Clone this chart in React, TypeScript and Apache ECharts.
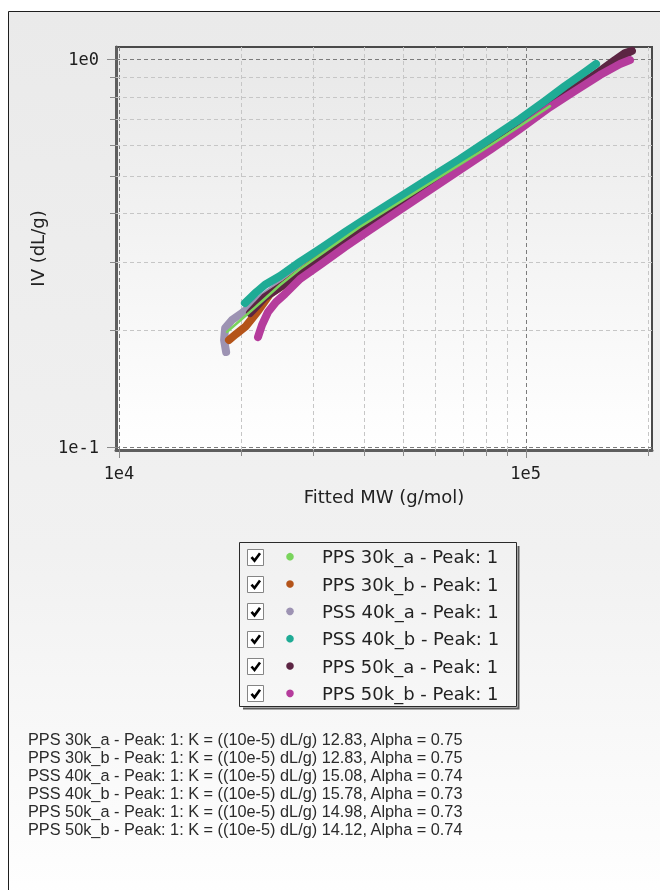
import React, { useEffect, useRef } from 'react';
import * as echarts from 'echarts';

// ---------- series meta ----------
const seriesNames = [
  'PPS 30k_a - Peak: 1',
  'PPS 30k_b - Peak: 1',
  'PSS 40k_a - Peak: 1',
  'PSS 40k_b - Peak: 1',
  'PPS 50k_a - Peak: 1',
  'PPS 50k_b - Peak: 1',
];
const seriesColors = ['#79d45c', '#b4541a', '#9d93b3', '#1fab95', '#5c2543', '#b53c9c'];
const kValues = [12.83, 12.83, 15.08, 15.78, 14.98, 14.12];
const alphaValues = [0.75, 0.75, 0.74, 0.73, 0.73, 0.74];

// ---------- data (Fitted MW g/mol, IV dL/g) ----------
const pps30kaMW = [18440, 20180, 22220, 24890, 27870, 33020, 39130, 49090, 61560, 77180, 96830, 114760];
const pps30kaIV = [0.198, 0.215, 0.235, 0.2615, 0.2875, 0.3258, 0.369, 0.428, 0.4965, 0.5758, 0.6721, 0.7562];

const pps30kbMW = [18640, 19400, 20530, 21970, 23510, 25590, 29490, 34940, 41420, 49090, 58170, 68930, 81710, 96830, 111550, 124940];
const pps30kbIV = [0.1887, 0.1955, 0.205, 0.2241, 0.2479, 0.2631, 0.2944, 0.3376, 0.3801, 0.4254, 0.4791, 0.5362, 0.604, 0.68, 0.7517, 0.8173];

const pss40kaMW = [18340, 18130, 18240, 18960, 20070, 21600, 24190, 27870, 33020, 39130, 49090, 61560, 77180, 96830, 121440, 139920];
const pss40kaIV = [0.1757, 0.1887, 0.2025, 0.2125, 0.2215, 0.235, 0.257, 0.291, 0.3317, 0.3734, 0.433, 0.5023, 0.5827, 0.684, 0.798, 0.8932];

const pss40kbMW = [20400, 21600, 22860, 24890, 27870, 31210, 35950, 41420, 49090, 58170, 68930, 81710, 96830, 111550, 124940, 139920, 148900];
const pss40kbIV = [0.235, 0.249, 0.262, 0.276, 0.3, 0.324, 0.358, 0.394, 0.441, 0.494, 0.552, 0.622, 0.7, 0.779, 0.852, 0.926, 0.971];

const pps50kaMW = [21000, 22860, 25590, 29490, 34940, 41420, 49090, 58170, 68930, 81710, 96830, 114760, 132240, 152300, 165800, 175450, 182550, 171540];
const pps50kaIV = [0.2215, 0.2435, 0.2631, 0.2927, 0.3317, 0.3712, 0.4155, 0.4679, 0.5237, 0.5896, 0.6681, 0.761, 0.8418, 0.9313, 0.994, 1.036, 1.049, 1.018];

const pps50kbMW = [21970, 22470, 23250, 24330, 25590, 27870, 31210, 35950, 41420, 49090, 58170, 68930, 81710, 96830, 114760, 132240, 152300, 170560, 180500];
const pps50kbIV = [0.192, 0.2063, 0.2228, 0.2364, 0.2479, 0.271, 0.2944, 0.3277, 0.3624, 0.4082, 0.4596, 0.5175, 0.5827, 0.66, 0.7517, 0.827, 0.9093, 0.9708, 0.994];

const seriesMW = [pps30kaMW, pps30kbMW, pss40kaMW, pss40kbMW, pps50kaMW, pps50kbMW];
const seriesIV = [pps30kaIV, pps30kbIV, pss40kaIV, pss40kbIV, pps50kaIV, pps50kbIV];
const seriesZ = [9, 4, 3, 8, 5, 6];
const seriesWidth = [2.5, 8, 8, 8, 8, 8];

// ---------- axes ----------
const X_MIN = 9832;
const X_MAX = 204440;
const Y_MIN = 0.09824;
const Y_MAX = 1.0738;
const xGridValues = [10000, 20000, 30000, 40000, 50000, 60000, 70000, 80000, 90000, 100000, 200000];
const yGridValues = [0.1, 0.2, 0.3, 0.4, 0.5, 0.6, 0.7, 0.8, 0.9, 1];
const xAxisTitle = 'Fitted MW (g/mol)';
const yAxisTitle = 'IV (dL/g)';

const isPow10 = (v: number) => {
  const e = Math.log10(v);
  return Math.abs(e - Math.round(e)) < 1e-7;
};
const logLabel = (v: number) => (isPow10(v) ? '1e' + Math.round(Math.log10(v)) : '');

export default function App() {
  const ref = useRef<HTMLDivElement>(null);

  useEffect(() => {
    if (!ref.current) return;
    const chart = echarts.init(ref.current, null, { renderer: 'svg' });

    const dataSeries = seriesNames.map((name, i) => ({
      name,
      type: 'line',
      color: seriesColors[i],
      data: seriesMW[i].map((m, j) => [m, seriesIV[i][j]]),
      showSymbol: false,
      symbol: 'circle',
      z: seriesZ[i],
      lineStyle: { width: seriesWidth[i], color: seriesColors[i], cap: 'round', join: 'round' },
      emphasis: { disabled: true },
      silent: true,
    }));

    const vGrid = {
      type: 'custom',
      name: 'vgrid',
      z: 1,
      silent: true,
      clip: false,
      data: xGridValues.map((v) => [v, 1]),
      renderItem: (params: any, api: any) => {
        const v = api.value(0);
        const cs = params.coordSys;
        const p = api.coord([v, 1]);
        const x = Math.round(p[0]) + 0.5;
        const major = isPow10(v);
        const bottom = cs.y + cs.height;
        return {
          type: 'group',
          children: [
            {
              type: 'line',
              shape: { x1: x, y1: cs.y, x2: x, y2: bottom },
              style: { stroke: major ? '#7c7c7c' : '#c6c6c6', lineWidth: 1, lineDash: [4, 3] },
            },
            {
              type: 'line',
              shape: { x1: x, y1: bottom, x2: x, y2: bottom + (major ? 8 : 6) },
              style: { stroke: '#8a8a8a', lineWidth: 1 },
            },
          ],
        };
      },
    };

    const hGrid = {
      type: 'custom',
      name: 'hgrid',
      z: 1,
      silent: true,
      clip: false,
      data: yGridValues.map((v) => [20000, v]),
      renderItem: (params: any, api: any) => {
        const v = api.value(1);
        const cs = params.coordSys;
        const p = api.coord([20000, v]);
        const y = Math.round(p[1]) + 0.5;
        const major = isPow10(v);
        return {
          type: 'group',
          children: [
            {
              type: 'line',
              shape: { x1: cs.x, y1: y, x2: cs.x + cs.width, y2: y },
              style: { stroke: major ? '#7c7c7c' : '#c6c6c6', lineWidth: 1, lineDash: [4, 3] },
            },
            {
              type: 'line',
              shape: { x1: cs.x - (major ? 9 : 6), y1: y, x2: cs.x, y2: y },
              style: { stroke: '#8a8a8a', lineWidth: 1 },
            },
          ],
        };
      },
    };

    // legend frame, checkboxes, dots, names + fit results
    const rowY0 = 556.7;
    const rowStep = 27.33;
    const graphics: any[] = [
      {
        type: 'rect',
        z: -10,
        silent: true,
        shape: { x: 8.5, y: 11.5, width: 700, height: 900 },
        style: {
          fill: new echarts.graphic.LinearGradient(0, 0, 0, 1, [
            { offset: 0, color: '#eaeaea' },
            { offset: 0.6, color: '#f1f1f1' },
            { offset: 1, color: '#ffffff' },
          ]),
          stroke: '#1e1e1e',
          lineWidth: 1,
        },
      },
      {
        type: 'polyline',
        z: 1,
        silent: true,
        shape: { points: [[243, 708.5], [518.5, 708.5], [518.5, 546]] },
        style: { stroke: '#5a5a5a', lineWidth: 2, fill: null },
      },
      {
        type: 'rect',
        z: 1,
        silent: true,
        shape: { x: 239.5, y: 542.5, width: 277, height: 164 },
        style: { fill: null, stroke: '#2a2a2a', lineWidth: 1 },
      },
    ];
    seriesNames.forEach((name, i) => {
      const cy = rowY0 + i * rowStep;
      graphics.push({
        type: 'rect',
        z: 2,
        silent: true,
        shape: { x: 247.5, y: Math.round(cy - 8) + 0.5, width: 16, height: 16 },
        style: { fill: '#ffffff', stroke: '#858585', lineWidth: 1 },
      });
      graphics.push({
        type: 'polyline',
        z: 3,
        silent: true,
        shape: { points: [[251.5, cy + 0.5], [254.5, cy + 4], [260, cy - 3.5]] },
        style: { stroke: '#000000', lineWidth: 2.6, fill: null, lineJoin: 'miter' },
      });
      graphics.push({
        type: 'circle',
        z: 3,
        silent: true,
        shape: { cx: 290, cy, r: 3.8 },
        style: { fill: seriesColors[i] },
      });
      graphics.push({
        type: 'text',
        z: 3,
        silent: true,
        style: {
          x: 322,
          y: cy,
          text: name,
          font: '18px "DejaVu Sans", Verdana, sans-serif',
          fill: '#222222',
          align: 'left',
          verticalAlign: 'middle',
        },
      });
    });
    seriesNames.forEach((name, i) => {
      graphics.push({
        type: 'text',
        z: 2,
        silent: true,
        style: {
          x: 28,
          y: 739 + i * 18.05,
          text: `${name}: K = ((10e-5) dL/g) ${kValues[i].toFixed(2)}, Alpha = ${alphaValues[i].toFixed(2)}`,
          font: '16.3px "Liberation Sans", Arial, sans-serif',
          fill: '#2b2b2b',
          align: 'left',
          verticalAlign: 'middle',
        },
      });
    });

    const option: any = {
      animation: false,
      graphic: graphics,
      grid: {
        left: 116,
        top: 47,
        width: 536,
        height: 403,
        show: true,
        backgroundColor: new echarts.graphic.LinearGradient(0, 0, 0, 1, [
          { offset: 0, color: '#e8e8e8' },
          { offset: 1, color: '#ffffff' },
        ]),
        borderColor: '#4a4a4a',
        borderWidth: 2,
      },
      xAxis: {
        type: 'log',
        logBase: 10,
        min: X_MIN,
        max: X_MAX,
        name: xAxisTitle,
        nameLocation: 'middle',
        nameGap: 37,
        nameTextStyle: { fontFamily: 'DejaVu Sans', fontSize: 18, color: '#222222' },
        axisLine: { show: true, onZero: false, lineStyle: { color: '#5e5e5e', width: 3 } },
        axisTick: { show: false },
        splitLine: { show: false },
        axisLabel: {
          formatter: logLabel,
          fontFamily: 'DejaVu Sans Mono',
          fontSize: 17,
          color: '#1e1e1e',
          margin: 14,
          showMinLabel: false,
          showMaxLabel: false,
        },
      },
      yAxis: {
        type: 'log',
        logBase: 10,
        min: Y_MIN,
        max: Y_MAX,
        name: yAxisTitle,
        nameLocation: 'middle',
        nameGap: 70,
        nameTextStyle: { fontFamily: 'DejaVu Sans', fontSize: 18, color: '#222222' },
        axisLine: { show: true, onZero: false, lineStyle: { color: '#5e5e5e', width: 3 } },
        axisTick: { show: false },
        splitLine: { show: false },
        axisLabel: {
          formatter: logLabel,
          fontFamily: 'DejaVu Sans Mono',
          fontSize: 17,
          color: '#1e1e1e',
          margin: 17,
          showMinLabel: false,
          showMaxLabel: false,
        },
      },
      series: [vGrid, hGrid, ...dataSeries],
    };

    chart.setOption(option);
    return () => chart.dispose();
  }, []);

  return (
    <div
      ref={ref}
      style={{ position: 'fixed', left: 0, top: 0, width: 660, height: 890 }}
    />
  );
}
